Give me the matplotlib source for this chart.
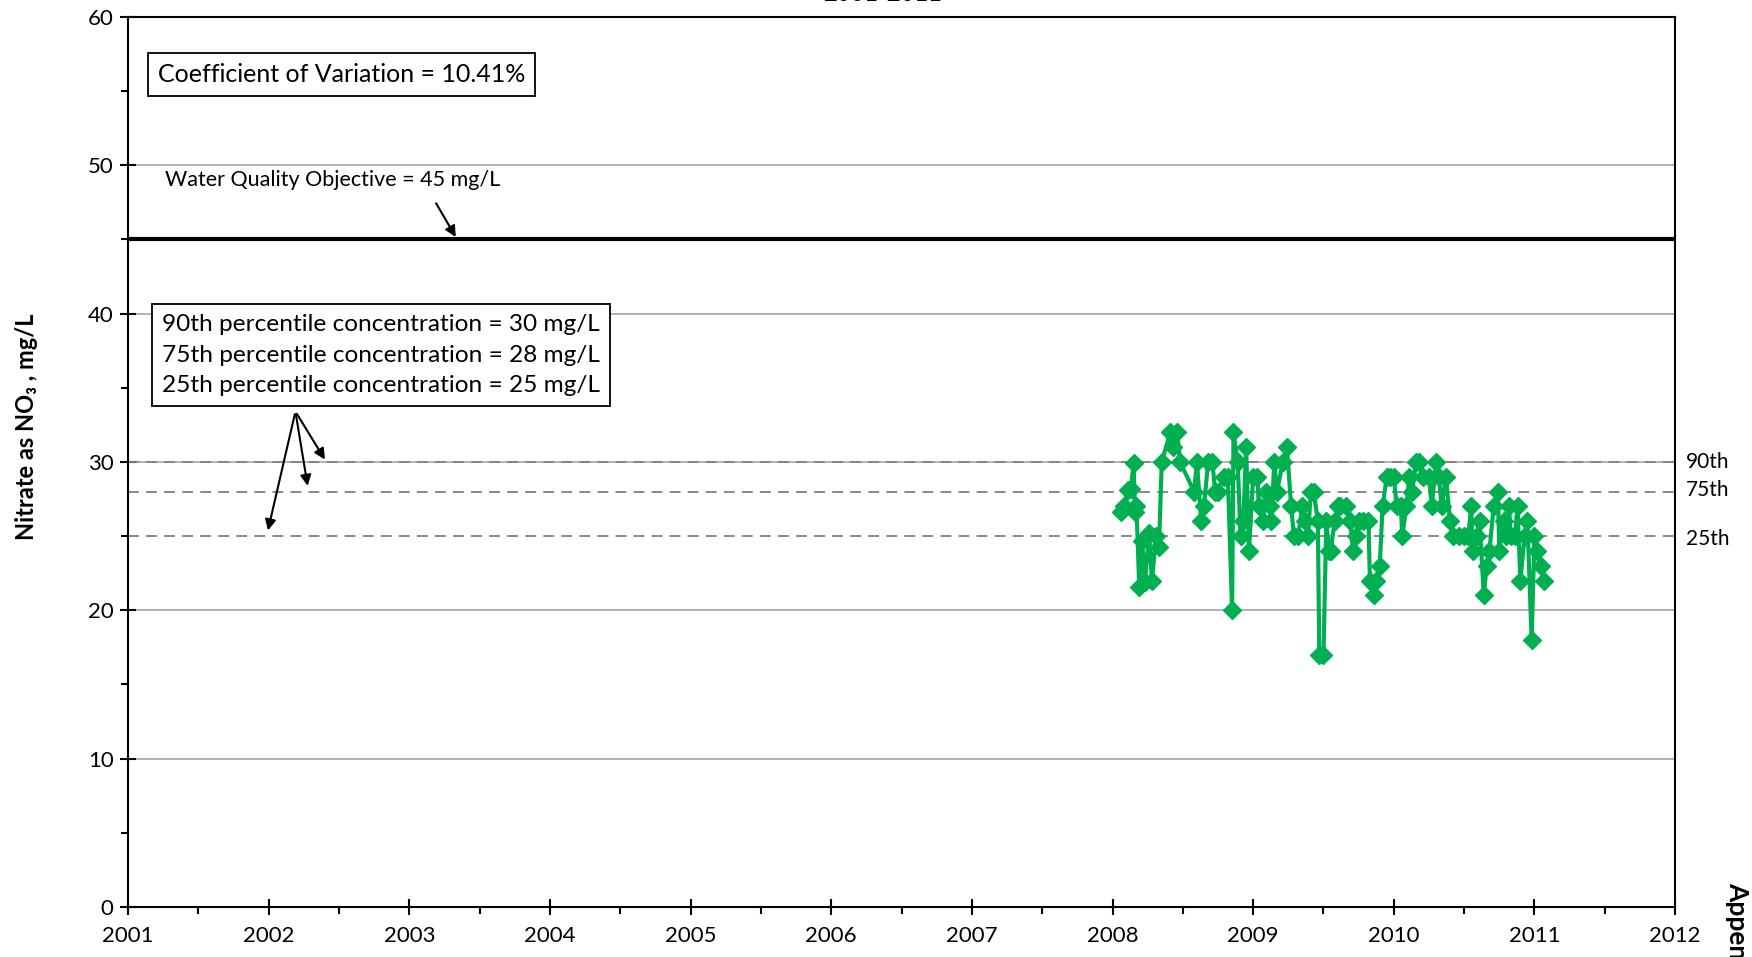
import matplotlib
matplotlib.use("Agg")
import matplotlib.pyplot as plt
from matplotlib.ticker import MultipleLocator

plt.rcParams['font.family'] = ['Lato', 'DejaVu Sans']

# ---- data ----
dates = [2008.06, 2008.08, 2008.11, 2008.13, 2008.15, 2008.16, 2008.17, 2008.19, 2008.21, 2008.23,
         2008.26, 2008.28, 2008.31, 2008.33, 2008.35, 2008.41, 2008.43, 2008.46, 2008.48, 2008.58,
         2008.60, 2008.63, 2008.65, 2008.68, 2008.71, 2008.73, 2008.75, 2008.79, 2008.82, 2008.85,
         2008.86, 2008.89, 2008.91, 2008.93, 2008.95, 2008.97, 2009.00, 2009.03, 2009.04, 2009.07,
         2009.09, 2009.12, 2009.13, 2009.15, 2009.17, 2009.21, 2009.24, 2009.27, 2009.29, 2009.32,
         2009.35, 2009.37, 2009.39, 2009.41, 2009.43, 2009.46, 2009.47, 2009.50, 2009.52, 2009.54,
         2009.55, 2009.58, 2009.60, 2009.62, 2009.66, 2009.69, 2009.71, 2009.73, 2009.75, 2009.78,
         2009.82, 2009.83, 2009.86, 2009.87, 2009.90, 2009.92, 2009.95, 2009.97, 2010.00, 2010.02,
         2010.05, 2010.06, 2010.09, 2010.11, 2010.13, 2010.16, 2010.18, 2010.21, 2010.25, 2010.27,
         2010.30, 2010.32, 2010.34, 2010.37, 2010.40, 2010.42, 2010.46, 2010.50, 2010.53, 2010.55,
         2010.56, 2010.59, 2010.61, 2010.64, 2010.66, 2010.68, 2010.71, 2010.74, 2010.75, 2010.78,
         2010.80, 2010.82, 2010.83, 2010.86, 2010.88, 2010.90, 2010.93, 2010.95, 2010.98, 2011.00,
         2011.02, 2011.05, 2011.07]
nitrate = [26.6, 27.0, 28.1, 28.2, 29.9, 26.6, 27.0, 21.6, 24.7, 21.9,
           25.2, 22.0, 25.0, 24.3, 30.0, 32.0, 31.0, 32.0, 30.0, 28.0,
           30.0, 26.0, 27.0, 30.0, 30.0, 28.0, 28.0, 29.0, 29.0, 20.0,
           32.0, 30.0, 25.0, 26.0, 31.0, 24.0, 29.0, 29.0, 27.0, 26.0,
           28.0, 27.0, 26.0, 30.0, 28.0, 30.0, 31.0, 27.0, 25.0, 25.0,
           27.0, 26.0, 25.0, 28.0, 28.0, 26.0, 17.0, 17.0, 26.0, 24.0,
           24.0, 26.0, 27.0, 27.0, 27.0, 26.0, 24.0, 25.0, 26.0, 26.0,
           26.0, 22.0, 21.0, 22.0, 23.0, 27.0, 29.0, 29.0, 29.0, 27.0,
           27.0, 25.0, 27.0, 29.0, 28.0, 30.0, 30.0, 29.0, 29.0, 27.0,
           30.0, 29.0, 27.0, 29.0, 26.0, 25.0, 25.0, 25.0, 25.0, 27.0,
           24.0, 25.0, 26.0, 21.0, 23.0, 24.0, 27.0, 28.0, 24.0, 26.0,
           25.0, 27.0, 25.0, 25.0, 27.0, 22.0, 25.0, 26.0, 18.0, 25.0,
           24.0, 23.0, 22.0]

percentiles = [30, 28, 25]
percentile_names = ["90th", "75th", "25th"]
wqo = 45
x_years = list(range(2001, 2013))
y_ticks = [0, 10, 20, 30, 40, 50, 60]

fig = plt.figure(figsize=(17.52, 9.57), dpi=100)
ax = fig.add_axes([0.0731, 0.0522, 0.9829 - 0.0731 - 0.0268, 0.9824 - 0.0522])

ax.set_xlim(2001, 2012)
ax.set_ylim(0, 60)

# grid lines
for v in y_ticks[1:]:
    ax.axhline(v, color='#a6a6a6', lw=1.2, zorder=1)

# percentile lines
for p in percentiles:
    ax.axhline(p, color='#808080', lw=1.3, ls=(0, (6, 4)), zorder=2)

# WQO line
ax.axhline(wqo, color='black', lw=3, zorder=3)

# data
ax.plot(dates, nitrate, color='#00B050', lw=3, marker='D', markersize=9.5,
        markerfacecolor='#00B050', markeredgecolor='#00B050', zorder=5)

# ticks
ax.set_xticks(x_years)
ax.set_xticklabels([str(y) for y in x_years])
ax.xaxis.set_minor_locator(MultipleLocator(0.5))
ax.set_yticks(y_ticks)
ax.yaxis.set_minor_locator(MultipleLocator(5))
ax.tick_params(axis='both', which='major', direction='inout', length=11, width=1.5,
               labelsize=16, pad=8)
ax.tick_params(axis='both', which='minor', direction='out', length=5, width=1.5)
ax.tick_params(axis='y', which='major', pad=5)
for s in ax.spines.values():
    s.set_linewidth(1.5)
    s.set_color('black')

ax.set_ylabel("Nitrate as NO₃ , mg/L", fontsize=17, fontweight='bold')
ax.yaxis.set_label_coords(-0.0585, 0.54)

# percentile labels on right
label_offsets = [30.0, 28.1, 24.8]
for name, yv in zip(percentile_names, label_offsets):
    ax.text(1.007, yv, name, transform=ax.get_yaxis_transform(), fontsize=15,
            va='center', ha='left')

# CV box
ax.text(2001.21, 56.1, "Coefficient of Variation = 10.41%", fontsize=18, va='center', ha='left',
        bbox=dict(boxstyle='square,pad=0.4', fc='white', ec='black', lw=1.3), zorder=6)

# WQO annotation
ax.text(2001.26, 49.0, "Water Quality Objective = 45 mg/L", fontsize=15.5, va='center', ha='left')
ax.annotate("", xy=(2003.34, 45.0), xytext=(2003.18, 47.6),
            arrowprops=dict(arrowstyle='-|>', color='black', lw=1.5, mutation_scale=16), zorder=6)

# percentile box
ax.text(2001.24, 37.2,
        "90th percentile concentration = 30 mg/L\n75th percentile concentration = 28 mg/L\n25th percentile concentration = 25 mg/L",
        fontsize=17.6, va='center', ha='left', linespacing=1.55,
        bbox=dict(boxstyle='square,pad=0.42', fc='white', ec='black', lw=1.3), zorder=6)
start = (2002.19, 33.4)
for end in [(2001.99, 25.2), (2002.28, 28.2), (2002.41, 30.0)]:
    ax.annotate("", xy=end, xytext=start,
                arrowprops=dict(arrowstyle='-|>', color='black', lw=1.5, mutation_scale=16),
                zorder=6)

# clipped title and side text
fig.text(0.504, 0.9985, "2001-2011", fontsize=17, fontweight='bold', ha='center', va='baseline')
fig.text(0.9915, 0.078, "Appendix", fontsize=19, fontweight='bold', rotation=-90,
         ha='center', va='top')

fig.savefig("out.png", dpi=100)
